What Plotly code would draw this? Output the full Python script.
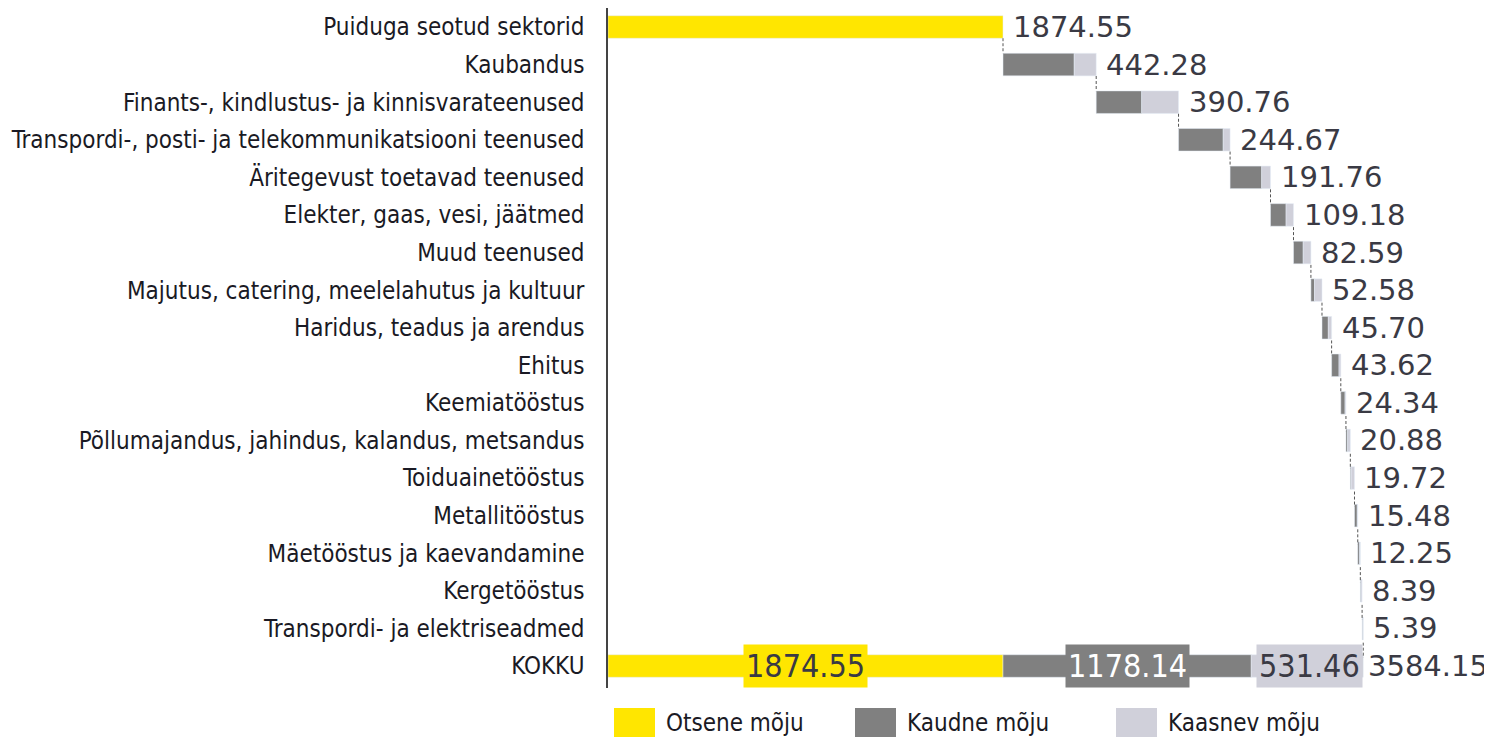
import numpy as np
import plotly.graph_objects as go

categories = [
    "Puiduga seotud sektorid",
    "Kaubandus",
    "Finants-, kindlustus- ja kinnisvarateenused",
    "Transpordi-, posti- ja telekommunikatsiooni teenused",
    "Äritegevust toetavad teenused",
    "Elekter, gaas, vesi, jäätmed",
    "Muud teenused",
    "Majutus, catering, meelelahutus ja kultuur",
    "Haridus, teadus ja arendus",
    "Ehitus",
    "Keemiatööstus",
    "Põllumajandus, jahindus, kalandus, metsandus",
    "Toiduainetööstus",
    "Metallitööstus",
    "Mäetööstus ja kaevandamine",
    "Kergetööstus",
    "Transpordi- ja elektriseadmed",
]
total_label = "KOKKU"

direct_value = 1874.55
sector_totals = [442.28, 390.76, 244.67, 191.76, 109.18, 82.59, 52.58, 45.70,
                 43.62, 24.34, 20.88, 19.72, 15.48, 12.25, 8.39, 5.39]
indirect = [338, 216, 212, 150, 74, 46, 17, 30, 35, 20, 8, 4, 13, 9, 3, 3.14]
induced = [104.28, 174.76, 32.67, 41.76, 35.18, 36.59, 35.58, 15.70,
           8.62, 4.34, 12.88, 15.72, 2.48, 3.25, 5.39, 2.25]
total_direct = 1874.55
total_indirect = 1178.14
total_induced = 531.46
grand_total = 3584.15

legend_names = ["Otsene mõju", "Kaudne mõju", "Kaasnev mõju"]

YELLOW = "#FFE600"
DARK = "#808080"
LIGHT = "#D0D0DA"
TXT = "#3a3a44"
LBL = "#1a1a24"
LFONT = "DejaVu Sans Condensed, sans-serif"

all_cats = categories + [total_label]
sector_cats = categories[1:]

ind = np.array(indirect, dtype=float)
indc = np.array(induced, dtype=float)
tots = np.array(sector_totals, dtype=float)
starts = direct_value + np.concatenate([[0], np.cumsum(tots)[:-1]])
ends = direct_value + np.cumsum(tots)

fig = go.Figure()
fig.add_trace(go.Bar(y=[categories[0], total_label], x=[direct_value, total_direct],
                     base=[0, 0], orientation="h", marker_color=YELLOW,
                     name=legend_names[0], width=0.6, showlegend=False, hoverinfo="skip"))
fig.add_trace(go.Bar(y=sector_cats + [total_label], x=list(ind) + [total_indirect],
                     base=list(starts) + [total_direct], orientation="h", marker_color=DARK,
                     name=legend_names[1], width=0.6, showlegend=False, hoverinfo="skip"))
fig.add_trace(go.Bar(y=sector_cats + [total_label], x=list(indc) + [total_induced],
                     base=list(starts + ind) + [total_direct + total_indirect],
                     orientation="h", marker_color=LIGHT,
                     name=legend_names[2], width=0.6, showlegend=False, hoverinfo="skip"))

# dashed connectors (vertical, from bar bottom to next bar top)
cum_ends = [direct_value] + list(ends)
cx, cy = [], []
for i, xe in enumerate(cum_ends):
    cx += [xe, xe, None]
    cy += [i + 0.3, i + 0.7, None]
fig.add_trace(go.Scatter(x=cx, y=cy, mode="lines", yaxis="y2", connectgaps=False,
                         line=dict(color="#555555", width=1, dash="3px,2px"),
                         showlegend=False, hoverinfo="skip"))

annotations = []
row_vals = [direct_value] + list(tots)
VFONT = dict(family="DejaVu Sans", size=29, color=TXT)
for cat, xe, v in zip(categories, cum_ends, row_vals):
    annotations.append(dict(x=xe, y=cat, text=f"{v:.2f}", showarrow=False,
                            xanchor="left", xshift=8, font=VFONT))
annotations.append(dict(x=grand_total, y=total_label, text=f"{grand_total:.2f}",
                        showarrow=False, xanchor="left", xshift=3, font=VFONT))
seg = [(0, total_direct, YELLOW, TXT, "center"),
       (total_direct, total_indirect, DARK, "white", "center"),
       (total_direct + total_indirect, total_induced, LIGHT, TXT, "right")]
for b, w, bg, fc, anc in seg:
    xpos = b + w / 2 if anc == "center" else b + w
    annotations.append(dict(x=xpos, y=total_label, text=f"{w:.2f}", showarrow=False,
                            xanchor=anc, bgcolor=bg, borderpad=2,
                            font=dict(family=LFONT, size=32, color=fc)))

# legend drawn as swatches (page px -> paper coords of plot area 608..1490, 8..688)
leg_x = [614, 855, 1116]
shapes = []
for (lx, name, col) in zip(leg_x, legend_names, [YELLOW, DARK, LIGHT]):
    shapes.append(dict(type="rect", xref="paper", yref="paper",
                       x0=(lx - 608) / 882, x1=(lx + 41 - 608) / 882,
                       y0=-(708 - 688) / 680, y1=-(737 - 688) / 680,
                       fillcolor=col, line_width=0))
    annotations.append(dict(xref="paper", yref="paper",
                            x=(lx + 50 - 608) / 882, y=-(723 - 688) / 680,
                            text=name, showarrow=False, xanchor="left", yanchor="middle",
                            font=dict(family=LFONT, size=24, color=LBL)))

fig.update_layout(
    width=1484, height=729,
    margin=dict(l=600, r=2, t=0, b=49, autoexpand=False),
    barmode="overlay",
    plot_bgcolor="white", paper_bgcolor="white",
    xaxis=dict(range=[0, 882 / (395 / 1874.55)], visible=False, fixedrange=True),
    yaxis=dict(categoryorder="array", categoryarray=all_cats, autorange="reversed",
               showline=True, linecolor="#444444", linewidth=1.5, ticks="",
               ticklabelstandoff=17, automargin=False,
               tickfont=dict(family=LFONT, size=24, color=LBL),
               showgrid=False, zeroline=False),
    yaxis2=dict(overlaying="y", range=[len(all_cats) - 0.5, -0.5], visible=False),
    annotations=annotations,
    shapes=shapes,
)

fig.write_html("out.html")
